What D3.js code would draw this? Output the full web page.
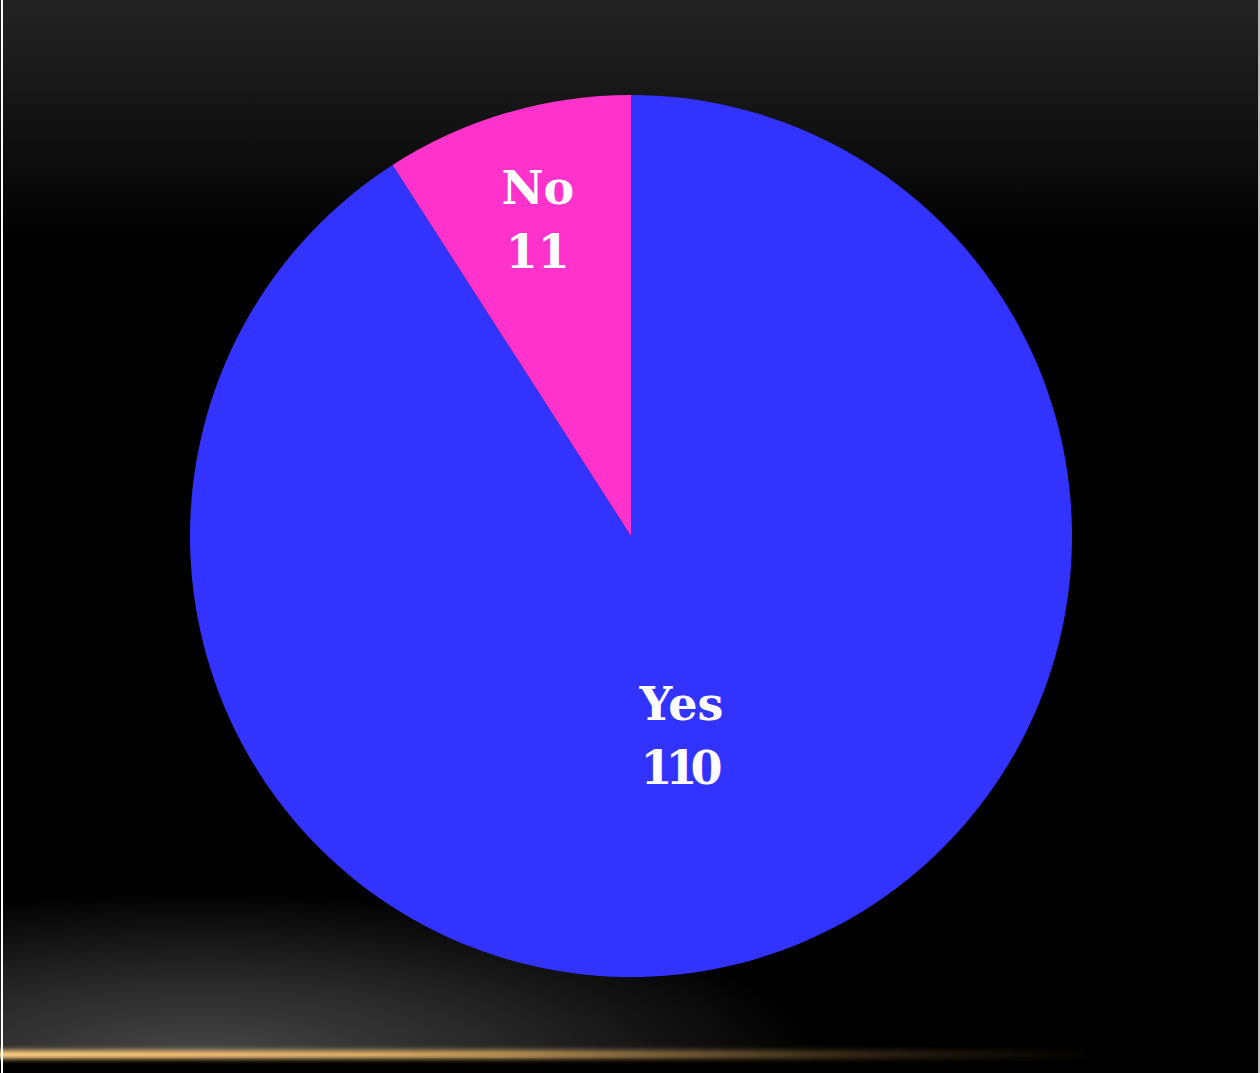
<!DOCTYPE html>
<html>
<head>
<meta charset="utf-8">
<script src="https://cdn.jsdelivr.net/npm/d3@7"></script>
<style>
  html, body { margin: 0; padding: 0; background: #000; }
  svg { display: block; }
</style>
</head>
<body>
<div id="pie_plot"></div>
<script>
// data
const categories = ["Yes", "No"];
const counts = [110, 11];
const sliceColors = ["#3333FF", "#FF33CC"];

const width = 1260,
  height = 1073;

const svg = d3
  .select("#pie_plot")
  .append("svg")
  .attr("width", width)
  .attr("height", height);

const defs = svg.append("defs");

// top fade
const topGrad = defs.append("linearGradient").attr("id", "topGrad")
  .attr("x1", 0).attr("y1", 0).attr("x2", 0).attr("y2", 1);
topGrad.append("stop").attr("offset", "0%").attr("stop-color", "#232323");
topGrad.append("stop").attr("offset", "40%").attr("stop-color", "#161616");
topGrad.append("stop").attr("offset", "100%").attr("stop-color", "#000");

// bottom glow
const botGrad = defs.append("radialGradient").attr("id", "botGrad")
  .attr("gradientUnits", "userSpaceOnUse")
  .attr("cx", 200).attr("cy", 1058).attr("r", 620)
  .attr("gradientTransform", "translate(200,1058) scale(1,0.27) translate(-200,-1058)");
botGrad.append("stop").attr("offset", "0%").attr("stop-color", "#474747");
botGrad.append("stop").attr("offset", "50%").attr("stop-color", "#262626");
botGrad.append("stop").attr("offset", "100%").attr("stop-color", "#000");

// gold line
const goldGrad = defs.append("linearGradient").attr("id", "goldGrad")
  .attr("x1", 0).attr("y1", 0).attr("x2", 1).attr("y2", 0);
goldGrad.append("stop").attr("offset", "0%").attr("stop-color", "#f0c47a").attr("stop-opacity", 1);
goldGrad.append("stop").attr("offset", "40%").attr("stop-color", "#d9a860").attr("stop-opacity", 0.85);
goldGrad.append("stop").attr("offset", "65%").attr("stop-color", "#8a6a38").attr("stop-opacity", 0.45);
goldGrad.append("stop").attr("offset", "90%").attr("stop-color", "#3a2a10").attr("stop-opacity", 0);

const blur = defs.append("filter").attr("id", "glow")
  .attr("x", "-5%").attr("y", "-300%").attr("width", "110%").attr("height", "700%");
blur.append("feGaussianBlur").attr("stdDeviation", "0 2.5");

svg.append("rect").attr("width", width).attr("height", height).attr("fill", "#000");
svg.append("rect").attr("width", width).attr("height", 245).attr("fill", "url(#topGrad)");
svg.append("rect").attr("y", 860).attr("width", width).attr("height", 213).attr("fill", "url(#botGrad)");
svg.append("rect").attr("y", 1058).attr("width", width).attr("height", 15).attr("fill", "#000");
svg.append("rect").attr("x", 0).attr("y", 1050).attr("width", width).attr("height", 9)
  .attr("fill", "url(#goldGrad)").attr("filter", "url(#glow)");
svg.append("rect").attr("x", 0).attr("y", 1053).attr("width", width * 0.75).attr("height", 3)
  .attr("fill", "url(#goldGrad)");

// frame edges
svg.append("rect").attr("x", 1).attr("y", 0).attr("width", 2).attr("height", height).attr("fill", "#fff");
svg.append("rect").attr("x", 1258).attr("y", 0).attr("width", 2).attr("height", height).attr("fill", "#bbb");

// pie
const cx = 631,
  cy = 536,
  radius = 441;

const color = d3.scaleOrdinal().domain(categories).range(sliceColors);
const pie = d3.pie().sort(null).value((d, i) => counts[i]);
const arcs = pie(categories);

const g = svg.append("g").attr("transform", `translate(${cx},${cy})`);

const arc = d3.arc().innerRadius(0).outerRadius(radius);
g.selectAll("path")
  .data(arcs)
  .join("path")
  .attr("d", arc)
  .attr("fill", (d) => color(d.data));

// label placement (best-fit style: small slice further out)
const labelFactor = { Yes: 0.47, No: 0.75 };
const labels = g
  .selectAll("g.lbl")
  .data(arcs)
  .join("g")
  .attr("class", "lbl")
  .attr("transform", (d) => {
    const r = radius * labelFactor[d.data];
    const a = (d.startAngle + d.endAngle) / 2;
    return `translate(${r * Math.sin(a) - (d.data === "Yes" ? 8 : 0)},${-r * Math.cos(a)})`;
  });

labels
  .append("text")
  .attr("text-anchor", "middle")
  .attr("y", -15)
  .style("font-family", "'DejaVu Serif', 'Liberation Serif', serif")
  .style("font-weight", "bold")
  .style("font-size", "46px")
  .attr("fill", "#fff")
  .text((d) => d.data);

labels
  .append("text")
  .attr("text-anchor", "middle")
  .attr("y", 49)
  .attr("textLength", (d) => (d.data === "Yes" ? 82 : null))
  .style("font-family", "'DejaVu Serif', 'Liberation Serif', serif")
  .style("font-weight", "bold")
  .style("font-size", "46px")
  .attr("fill", "#fff")
  .text((d, i) => counts[i]);
</script>
</body>
</html>
